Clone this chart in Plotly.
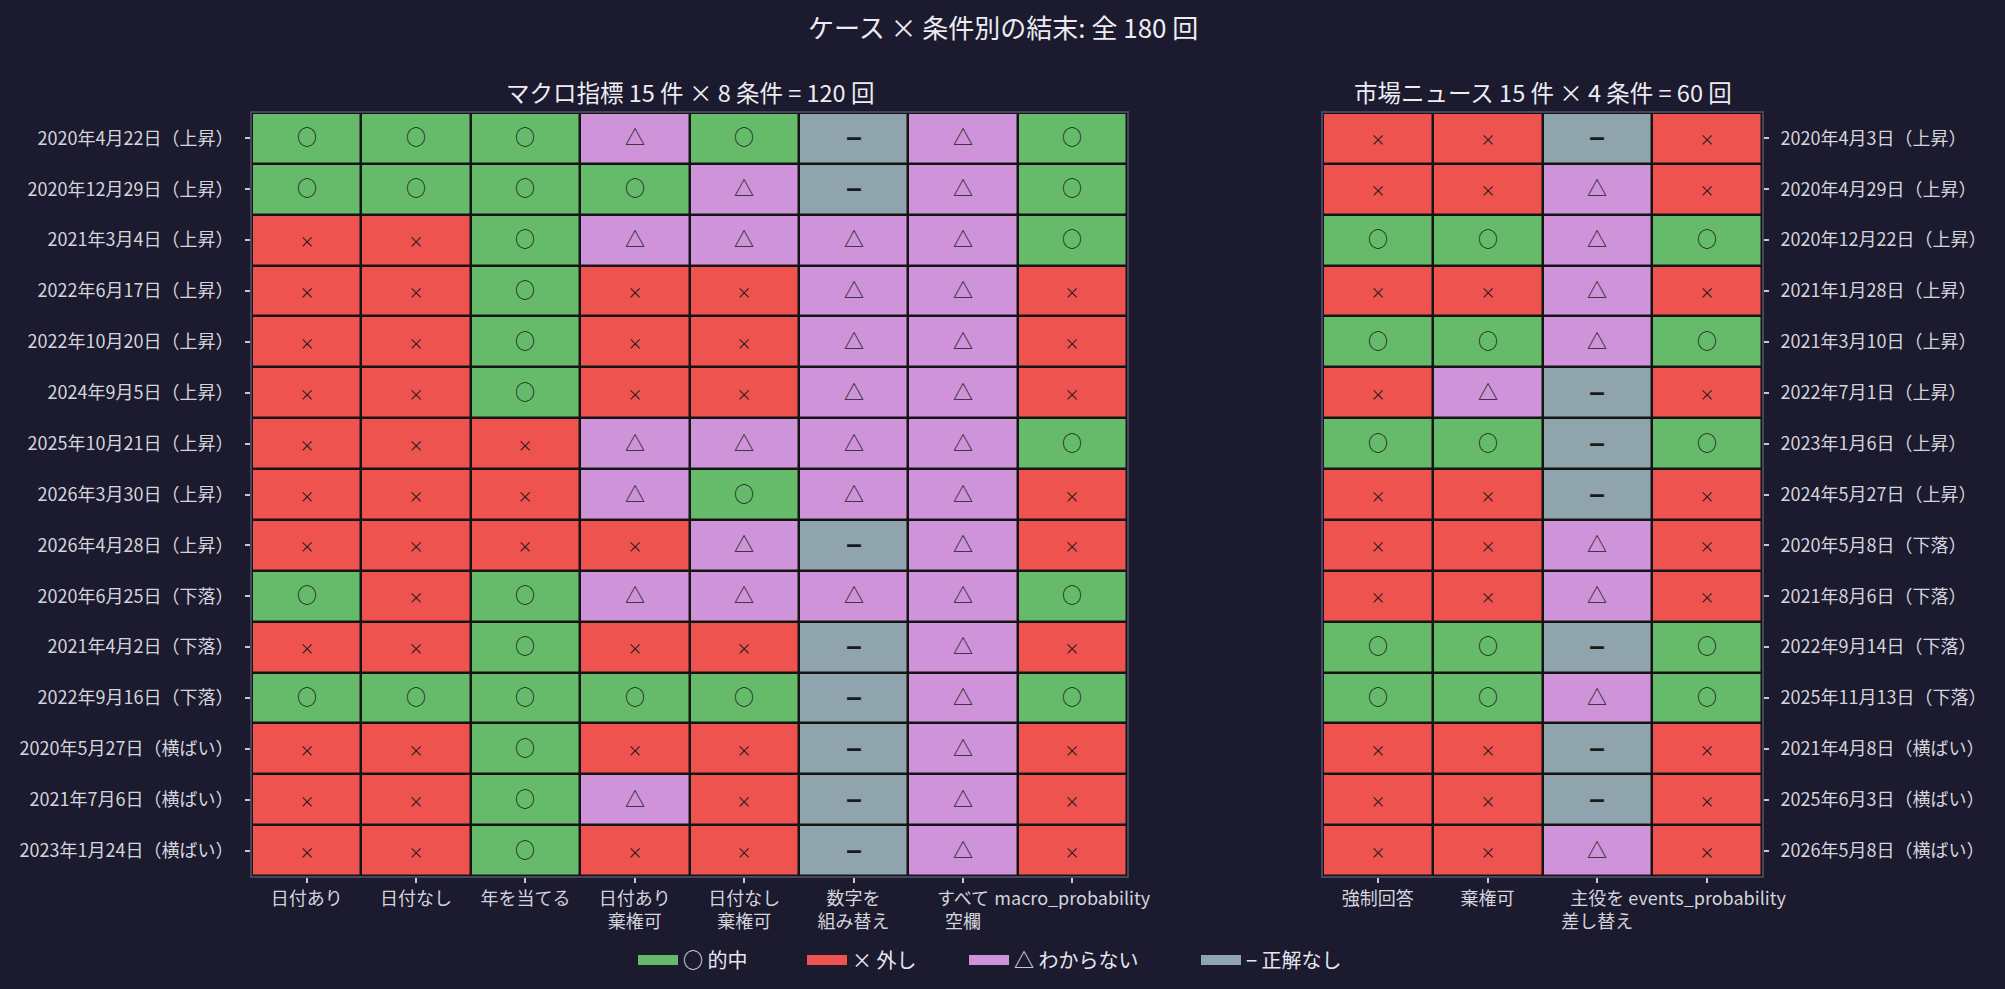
import plotly.graph_objects as go

# outcome symbols per case x condition
macro_cases = [
    "2020年4月22日（上昇）", "2020年12月29日（上昇）", "2021年3月4日（上昇）",
    "2022年6月17日（上昇）", "2022年10月20日（上昇）", "2024年9月5日（上昇）",
    "2025年10月21日（上昇）", "2026年3月30日（上昇）", "2026年4月28日（上昇）",
    "2020年6月25日（下落）", "2021年4月2日（下落）", "2022年9月16日（下落）",
    "2020年5月27日（横ばい）", "2021年7月6日（横ばい）", "2023年1月24日（横ばい）",
]
macro_conditions = ["日付あり", "日付なし", "年を当てる", "日付あり<br>棄権可", "日付なし<br>棄権可",
                    "数字を<br>組み替え", "すべて<br>空欄", "macro_probability"]
macro_results = [
    ["○", "○", "○", "△", "○", "−", "△", "○"],
    ["○", "○", "○", "○", "△", "−", "△", "○"],
    ["×", "×", "○", "△", "△", "△", "△", "○"],
    ["×", "×", "○", "×", "×", "△", "△", "×"],
    ["×", "×", "○", "×", "×", "△", "△", "×"],
    ["×", "×", "○", "×", "×", "△", "△", "×"],
    ["×", "×", "×", "△", "△", "△", "△", "○"],
    ["×", "×", "×", "△", "○", "△", "△", "×"],
    ["×", "×", "×", "×", "△", "−", "△", "×"],
    ["○", "×", "○", "△", "△", "△", "△", "○"],
    ["×", "×", "○", "×", "×", "−", "△", "×"],
    ["○", "○", "○", "○", "○", "−", "△", "○"],
    ["×", "×", "○", "×", "×", "−", "△", "×"],
    ["×", "×", "○", "△", "×", "−", "△", "×"],
    ["×", "×", "○", "×", "×", "−", "△", "×"],
]

news_cases = [
    "2020年4月3日（上昇）", "2020年4月29日（上昇）", "2020年12月22日（上昇）",
    "2021年1月28日（上昇）", "2021年3月10日（上昇）", "2022年7月1日（上昇）",
    "2023年1月6日（上昇）", "2024年5月27日（上昇）", "2020年5月8日（下落）",
    "2021年8月6日（下落）", "2022年9月14日（下落）", "2025年11月13日（下落）",
    "2021年4月8日（横ばい）", "2025年6月3日（横ばい）", "2026年5月8日（横ばい）",
]
news_conditions = ["強制回答", "棄権可", "主役を<br>差し替え", "events_probability"]
news_results = [
    ["×", "×", "−", "×"],
    ["×", "×", "△", "×"],
    ["○", "○", "△", "○"],
    ["×", "×", "△", "×"],
    ["○", "○", "△", "○"],
    ["×", "△", "−", "×"],
    ["○", "○", "−", "○"],
    ["×", "×", "−", "×"],
    ["×", "×", "△", "×"],
    ["×", "×", "△", "×"],
    ["○", "○", "−", "○"],
    ["○", "○", "△", "○"],
    ["×", "×", "−", "×"],
    ["×", "×", "−", "×"],
    ["×", "×", "△", "×"],
]

symbols = ["○", "×", "△", "−"]
legend_names = ["○ 的中", "× 外し", "△ わからない", "− 正解なし"]
colors = ["#66bb6a", "#ef5350", "#ce93d8", "#90a4ae"]

BG = "#1b1a2e"
FONT = "Noto Sans CJK JP"
W, H = 2005, 989

code = {s: i for i, s in enumerate(symbols)}
# how each symbol is drawn inside a cell
cell_label = {
    "○": "○",
    "×": "<span style='font-size:15px'>×</span>",
    "△": "△",
    "−": "<span style='font-size:27px;font-weight:bold;baseline-shift:-4px'>−</span>",
}
cscale = [[0, colors[0]], [1/6, colors[0]], [1/6, colors[1]], [0.5, colors[1]],
          [0.5, colors[2]], [5/6, colors[2]], [5/6, colors[3]], [1, colors[3]]]


def heat(cases, conds, results, xa, ya):
    z = [[code[s] for s in row] for row in results]
    txt = [[cell_label[s] for s in row] for row in results]
    return go.Heatmap(
        z=z, x=conds, y=cases, text=txt, texttemplate="%{text}",
        textfont=dict(family=FONT, size=20, color="#1a1a1a"),
        colorscale=cscale, zmin=0, zmax=3, showscale=False,
        xgap=2.5, ygap=2.5, xaxis=xa, yaxis=ya, hoverinfo="skip",
        showlegend=False,
    )


fig = go.Figure()
fig.add_trace(heat(macro_cases, macro_conditions, macro_results, "x", "y"))
fig.add_trace(heat(news_cases, news_conditions, news_results, "x2", "y2"))

# one small legend per outcome so the spacing can follow the reference
legend_left = [638, 807, 969, 1201]
legend_ids = ["legend", "legend2", "legend3", "legend4"]
for name, c, lid in zip(legend_names, colors, legend_ids):
    fig.add_trace(go.Scatter(x=[None], y=[None], mode="lines", name=name, legend=lid,
                             line=dict(color=c, width=14), xaxis="x", yaxis="y"))

ax = dict(showline=True, mirror=True, linecolor="#45455e", linewidth=2,
          ticks="outside", ticklen=5, tickwidth=1.5, tickcolor="#c8c8d0",
          showgrid=False, zeroline=False, automargin=False,
          tickfont=dict(family=FONT, size=18, color="#d4d4dc"))

y0, y1 = 1 - 876 / H, 1 - 113 / H
fig.update_layout(
    width=W, height=H,
    paper_bgcolor=BG, plot_bgcolor="#141414",
    margin=dict(l=0, r=0, t=0, b=0),
    font=dict(family=FONT, color="#e6e6ee"),
    xaxis=dict(ax, domain=[252 / W, 1127 / W], tickangle=0),
    yaxis=dict(ax, domain=[y0, y1], autorange="reversed", ticklabelstandoff=8),
    xaxis2=dict(ax, domain=[1323 / W, 1762 / W], tickangle=0, anchor="y2"),
    yaxis2=dict(ax, domain=[y0, y1], autorange="reversed", side="right",
                anchor="x2", ticklabelstandoff=8),
    showlegend=True,
    annotations=[
        dict(text="ケース × 条件別の結末: 全 180 回", x=0.5, y=1 - 26 / H,
             xanchor="center", yanchor="middle", xref="paper", yref="paper",
             showarrow=False, font=dict(size=26, color="#ececf2")),
        dict(text="マクロ指標 15 件 × 8 条件 = 120 回", x=(252 + 1127) / 2 / W, y=1 - 92 / H,
             xanchor="center", yanchor="middle", xref="paper", yref="paper",
             showarrow=False, font=dict(size=23.5, color="#ececf2")),
        dict(text="市場ニュース 15 件 × 4 条件 = 60 回", x=(1323 + 1762) / 2 / W, y=1 - 92 / H,
             xanchor="center", yanchor="middle", xref="paper", yref="paper",
             showarrow=False, font=dict(size=23.5, color="#ececf2")),
    ],
)
for lid, left in zip(legend_ids, legend_left):
    fig.update_layout({lid: dict(
        orientation="h", x=(left - 5) / W, xanchor="left", y=1 - 960 / H, yanchor="middle",
        font=dict(family=FONT, size=20, color="#e6e6ee"), bgcolor="rgba(0,0,0,0)",
        itemwidth=40)})

fig.write_html("out.html", config={"displayModeBar": False}, post_script=(
    "document.body.style.margin='0';"
    "document.body.style.background='#1b1a2e';"))
